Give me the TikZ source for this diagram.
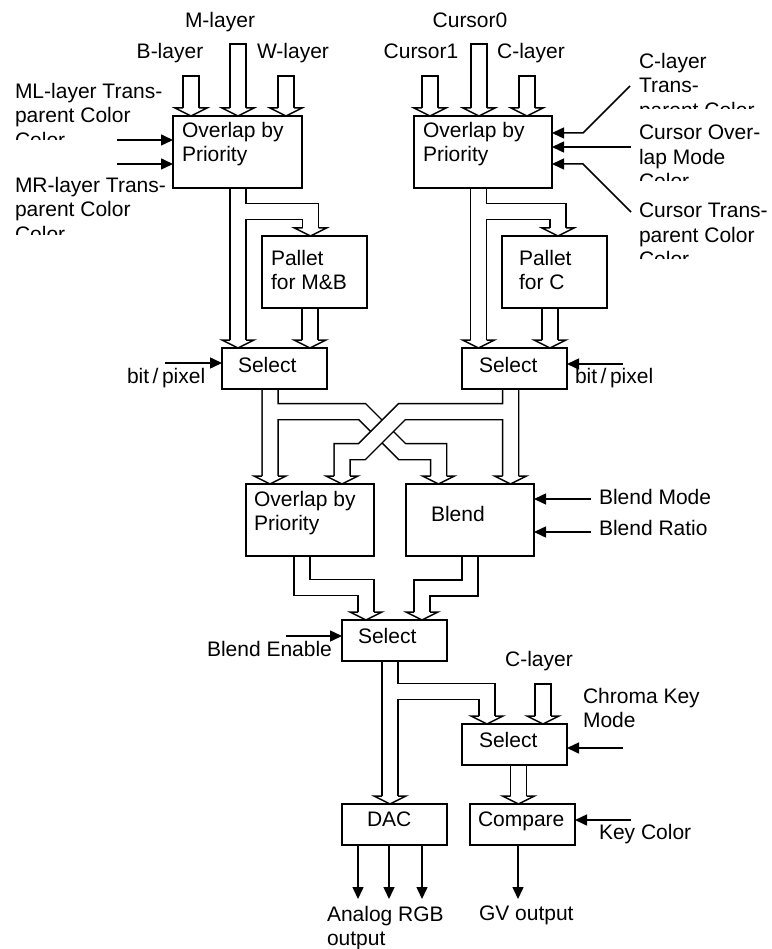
\documentclass[tikz,border=0pt]{standalone}
\usepackage{fontspec}
\setmainfont{Liberation Sans}
\usetikzlibrary{arrows.meta,calc,positioning,backgrounds}

\tikzset{
  box/.style={draw, line width=1.5pt, inner sep=0pt, outer sep=0pt, anchor=north west,
    minimum width=105pt, minimum height=41pt},
  big/.style={box, minimum height=72pt},
  txt/.style={inner sep=0pt, outer sep=0pt, anchor=north west, align=left},
  lbl/.style={inner sep=0pt, outer sep=0pt, anchor=base},
  lblw/.style={inner sep=0pt, outer sep=0pt, anchor=base west},
  bus/.style={line width=1.5pt, double=white, double distance=14.5pt, line join=miter},
  sig/.style={line width=1.5pt, -{Triangle[length=12pt,width=11pt]}},
  headline/.style={line width=1.5pt, fill=white, line join=miter},
}
\newcommand{\bushead}[1]{\draw[headline] ($(#1)+(-8,0)$) -- ++(-8,0) -- ++(16,8) -- ++(16,-8) -- ++(-8,0);}
\newcommand{\busin}[2]{\draw[bus] ($(#1)+(0,-#2)$) -- (#1);
  \draw[line width=1.5pt, line cap=rect] ($(#1)+(-8,-#2)$) -- ($(#1)+(8,-#2)$);}

\begin{document}
\begin{tikzpicture}[x=1pt, y=-1pt, font=\fontsize{21}{24.5}\selectfont]
\useasboundingbox (0,0) rectangle (771,949);

\node[big, minimum width=129pt] (ovlA) at (173,116) {};
\node[big, minimum width=138pt] (ovlC) at (414,116) {};
\node[big] (palA) at (262,236) {};
\node[big] (palC) at (502,236) {};
\node[box] (selA) at (222,348) {};
\node[box] (selC) at (462,348) {};
\node[big, minimum width=128pt] (ovlB) at (246,484) {};
\node[big, minimum width=128pt] (blend) at (406,484) {};
\node[box] (selD) at (342,620) {};
\node[box] (selE) at (462,724) {};
\node[box] (dac) at (342,804) {};
\node[box] (cmp) at (470,804) {};

\node[txt] (ovlAt) at ($(ovlA.north west)+(9,6)$) {Overlap by\\Priority};
\node[txt] (ovlCt) at ($(ovlC.north west)+(9,6)$) {Overlap by\\Priority};
\node[txt] (palAt) at ($(palA.north west)+(9,14)$) {Pallet\\for M\&B};
\node[txt] (palCt) at ($(palC.north west)+(17,14)$) {Pallet\\for C};
\node[txt] (selAt) at ($(selA.north west)+(16,9)$) {Select};
\node[txt] (selCt) at ($(selC.north west)+(17,9)$) {Select};
\node[txt] (ovlBt) at ($(ovlB.north west)+(8,7)$) {Overlap by\\Priority};
\node[txt] (blendt) at ($(blend.north west)+(25,22)$) {Blend};
\node[txt] (selDt) at ($(selD.north west)+(16,8)$) {Select};
\node[txt] (selEt) at ($(selE.north west)+(17,8)$) {Select};
\node[txt] (dact) at ($(dac.north west)+(25,8)$) {DAC};
\node[txt] (cmpt) at ($(cmp.north west)+(8,8)$) {Compare};

\node[lbl] (lblM) at (220,28) {M-layer};
\node[lbl] (lblB) at (170,59) {B-layer};
\node[lbl] (lblW) at (293,59) {W-layer};
\node[lbl] (lblC0) at (470,28) {Cursor0};
\node[lbl] (lblC1) at (421,59) {Cursor1};
\node[lbl] (lblCL) at (531,59) {C-layer};
\node[lbl] (lblCL2) at (539,666) {C-layer};
\begin{scope}
  \clip (0,60) rectangle (172,140);
  \node[txt] (lblML) at (15,83) {ML-layer Trans-\\parent Color\\Color};
\end{scope}
\begin{scope}
  \clip (0,160) rectangle (172,235);
  \node[txt] (lblMR) at (15,177) {MR-layer Trans-\\parent Color\\Color};
\end{scope}
\begin{scope}
  \clip (600,40) rectangle (771,109);
  \node[txt] (lblCT) at (639,53) {C-layer\\Trans-\\parent Color};
\end{scope}
\begin{scope}
  \clip (600,112) rectangle (771,181);
  \node[txt] (lblCO) at (639,125) {Cursor Over-\\lap Mode\\Color};
\end{scope}
\begin{scope}
  \clip (600,190) rectangle (771,259);
  \node[txt] (lblCTr) at (639,203) {Cursor Trans-\\parent Color\\Color};
\end{scope}
\node[lblw] (lblBitA) at (127,383) {bit\,/\,pixel};
\node[lblw] (lblBitC) at (575,383) {bit\,/\,pixel};
\node[lblw] (lblBM) at (599,504) {Blend Mode};
\node[lblw] (lblBR) at (599,535) {Blend Ratio};
\node[lblw] (lblBE) at (207,656) {Blend Enable};
\node[txt] (lblCK) at (583,688) {Chroma Key\\Mode};
\node[lblw] (lblKC) at (599,839) {Key Color};
\node[txt] (lblRGB) at (327,906) {Analog RGB\\output};
\node[lblw] (lblGV) at (479,920) {GV output};

\coordinate (hB) at ($(ovlA.north west)+(18,-8)$);
\coordinate (hM) at ($(ovlA.north west)+(65,-8)$);
\coordinate (hW) at ($(ovlA.north west)+(113,-8)$);
\coordinate (hC1) at ($(ovlC.north west)+(16,-8)$);
\coordinate (hC0) at ($(ovlC.north west)+(65,-8)$);
\coordinate (hCL) at ($(ovlC.north west)+(113,-8)$);
\coordinate (hPA) at ($(palA.north west)+(48.5,-8)$);
\coordinate (hPC) at ($(palC.north west)+(56,-8)$);
\coordinate (hSA1) at ($(selA.north west)+(16,-8)$);
\coordinate (hSA2) at ($(selA.north west)+(88,-8)$);
\coordinate (hSC1) at ($(selC.north west)+(16.5,-8)$);
\coordinate (hSC2) at ($(selC.north west)+(88,-8)$);
\coordinate (hOB1) at ($(ovlB.north west)+(24,-8)$);
\coordinate (hOB2) at ($(ovlB.north west)+(96,-8)$);
\coordinate (hBL1) at ($(blend.north west)+(32.5,-8)$);
\coordinate (hBL2) at ($(blend.north west)+(104.5,-8)$);
\coordinate (hSD1) at ($(selD.north west)+(24,-8)$);
\coordinate (hSD2) at ($(selD.north west)+(80,-8)$);
\coordinate (hSE1) at ($(selE.north west)+(25,-8)$);
\coordinate (hSE2) at ($(selE.north west)+(81,-8)$);
\coordinate (hDAC) at ($(dac.north west)+(48,-8)$);
\coordinate (hCMP) at ($(cmp.north west)+(48.5,-8)$);

\begin{scope}[on background layer]
  \busin{hB}{32} \busin{hM}{64} \busin{hW}{32}
  \busin{hC1}{32} \busin{hC0}{64} \busin{hCL}{32}
  \busin{hSE2}{32}
  \draw[bus] (ovlA.south -| hSA1) -- (hSA1) ($(ovlA.south -| hSA1)+(0,23.5)$) -| (hPA);
  \draw[bus] (palA.south -| hSA2) -- (hSA2);
  \draw[bus] (ovlC.south -| hSC1) -- (hSC1) ($(ovlC.south -| hSC1)+(0,23.5)$) -| (hPC);
  \draw[bus] (palC.south -| hSC2) -- (hSC2);
  \draw[bus] (selA.south -| hOB1) -- (hOB1)
    ($(selA.south -| hOB1)+(0,22.5)$) -- ++(92,0) -- ++(40,40) -| (hBL1);
  \draw[bus] (selC.south -| hBL2) -- (hBL2)
    ($(selC.south -| hBL2)+(0,22.5)$) -- ++(-108.5,0) -- ++(-40,40) -| (hOB2);
  \draw[bus] ($(ovlB.south west)+(56,0)$) -- ++(0,31.5) -| (hSD1);
  \draw[bus] ($(blend.south west)+(64,0)$) -- ++(0,32) -| (hSD2);
  \draw[bus] (selD.south -| hDAC) -- (hDAC) ($(selD.south -| hDAC)+(0,30.5)$) -| (hSE1);
  \draw[bus] (selE.south -| hCMP) -- (hCMP);
  \foreach \h in {hB,hM,hW,hC1,hC0,hCL,hPA,hPC,hSA1,hSA2,hSC1,hSC2,
                  hOB1,hOB2,hBL1,hBL2,hSD1,hSD2,hSE1,hSE2,hDAC,hCMP}
    {\bushead{\h}}
\end{scope}

\draw[sig] ($(ovlA.north west)+(-56,24)$) -- ($(ovlA.north west)+(0,24)$);
\draw[sig] ($(ovlA.north west)+(-56,48)$) -- ($(ovlA.north west)+(0,48)$);
\draw[sig] ($(lblCT.north west)+(-9,33)$) -- ++(-47,47) -- ($(ovlC.north east)+(0,17)$);
\draw[sig] ($(lblCO.north west)+(-8,22)$) -- ($(ovlC.north east)+(0,31)$);
\draw[sig] ($(lblCTr.north west)+(-8,9)$) -- ++(-48,-48) -- ($(ovlC.north east)+(0,48)$);
\draw[sig] ($(selA.north west)+(-57,15)$) -- ($(selA.north west)+(0,15)$);
\draw[sig] ($(selC.north east)+(56,16)$) -- ($(selC.north east)+(0,16)$);
\draw[sig] ($(blend.north east)+(57,15)$) -- ($(blend.north east)+(0,15)$);
\draw[sig] ($(blend.north east)+(57,48)$) -- ($(blend.north east)+(0,48)$);
\draw[sig] ($(selD.north west)+(-56,16)$) -- ($(selD.north west)+(0,16)$);
\draw[sig] ($(selE.north east)+(56,24)$) -- ($(selE.north east)+(0,24)$);
\draw[sig] ($(cmp.north east)+(56,16)$) -- ($(cmp.north east)+(0,16)$);
\foreach \dx in {16,47,80}
  \draw[sig] ($(dac.south west)+(\dx,0)$) -- ++(0,54);
\draw[sig] ($(cmp.south west)+(48,0)$) -- ++(0,54);
\end{tikzpicture}
\end{document}
